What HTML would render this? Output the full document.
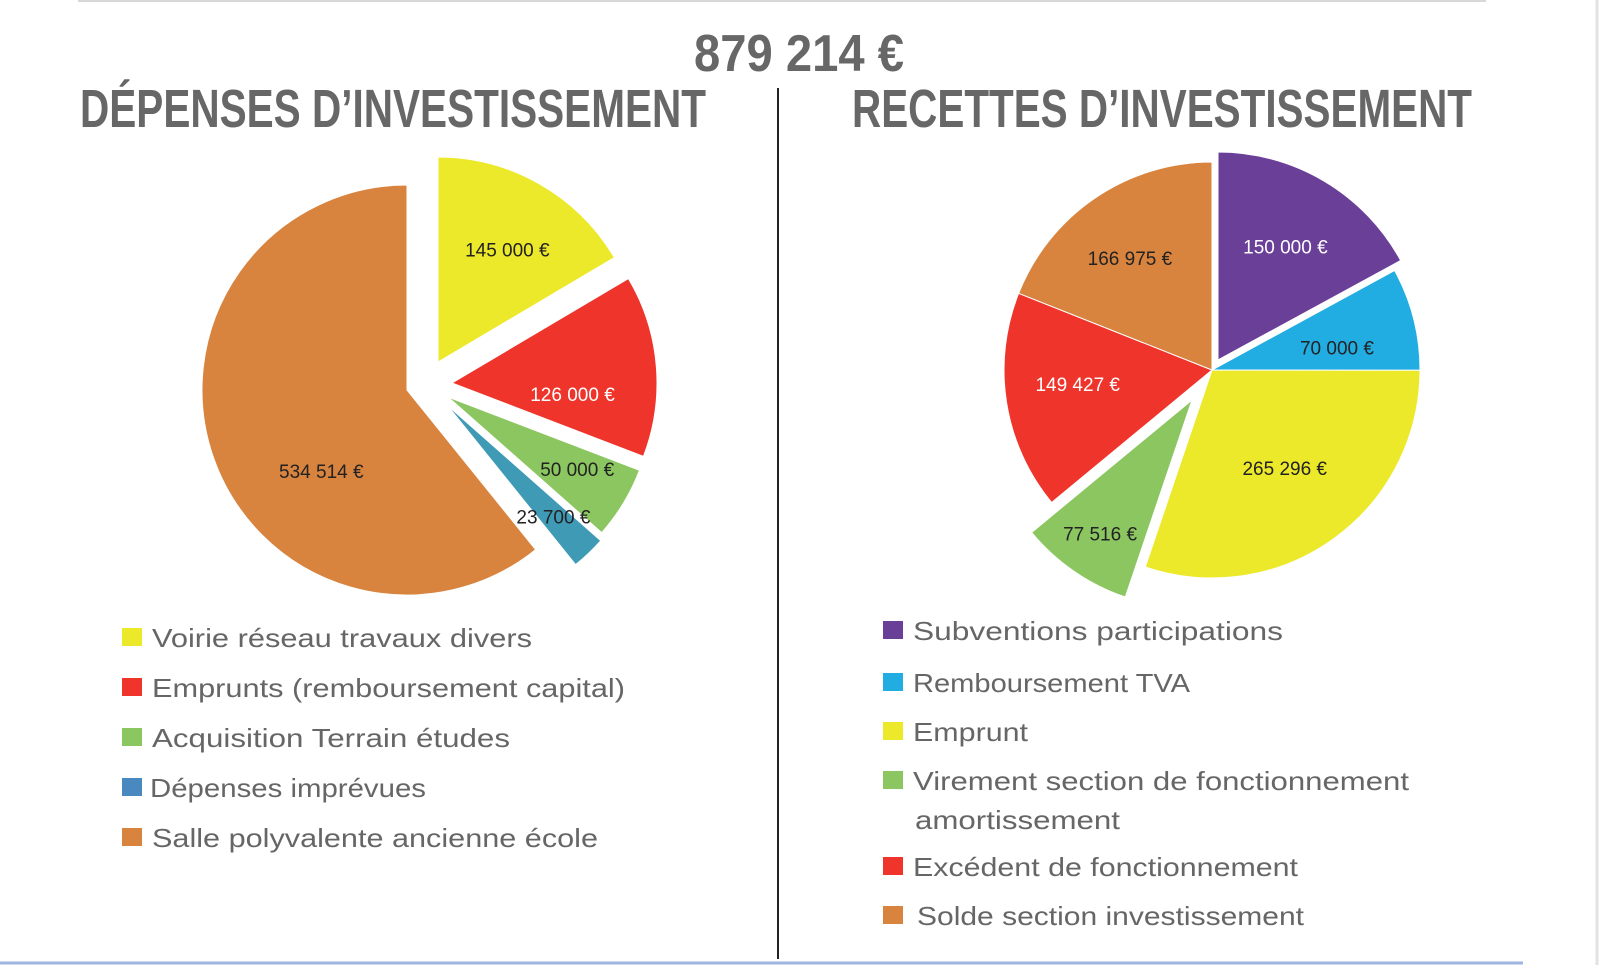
<!DOCTYPE html>
<html><head><meta charset="utf-8">
<style>
html,body{margin:0;padding:0;background:#fff;}
svg{display:block;}
</style></head>
<body>
<svg id="chart" width="1599" height="965" viewBox="0 0 1599 965" xmlns="http://www.w3.org/2000/svg">
  <rect x="0" y="0" width="1599" height="965" fill="#fff"/>
  <line x1="78" y1="1" x2="1486" y2="1" stroke="#d8d8d8" stroke-width="2"/>
  <line x1="1597" y1="0" x2="1597" y2="965" stroke="#e2e2e2" stroke-width="3"/>
  <line x1="0" y1="963" x2="1523" y2="963" stroke="#9fb6e0" stroke-width="3"/>
  <line x1="778" y1="88" x2="778" y2="959" stroke="#222" stroke-width="2"/>
  <text x="694" y="71" textLength="210" lengthAdjust="spacingAndGlyphs" font-family="Liberation Sans, sans-serif" font-weight="bold" font-size="52" fill="#676767">879 214 €</text>
  <text x="80" y="127" textLength="626" lengthAdjust="spacingAndGlyphs" font-family="Liberation Sans, sans-serif" font-weight="bold" font-size="54" fill="#676767">DÉPENSES D’INVESTISSEMENT</text>
  <text x="852" y="127" textLength="620" lengthAdjust="spacingAndGlyphs" font-family="Liberation Sans, sans-serif" font-weight="bold" font-size="54" fill="#676767">RECETTES D’INVESTISSEMENT</text>
  <g id="leftPie"></g>
  <g id="rightPie"></g>
  <g id="leftLegend"></g>
  <g id="rightLegend"></g>
</svg>
<script>
// ---- Data: Dépenses ----
const depCategories = ["Voirie réseau travaux divers","Emprunts (remboursement capital)","Acquisition Terrain études","Dépenses imprévues","Salle polyvalente ancienne école"];
const depValues = [145000, 126000, 50000, 23700, 534514];
// ---- Data: Recettes ----
const recCategories = ["Subventions participations","Remboursement TVA","Emprunt","Virement section de fonctionnement amortissement","Excédent de fonctionnement","Solde section investissement"];
const recValues = [150000, 70000, 265296, 77516, 149427, 166975];

// ---- Styles (not data) ----
const depColors = ["#ece82a","#ee342b","#8bc660","#3f9ab5","#d8843f"];
const depLegendColors = ["#ece82a","#ee342b","#8bc660","#4a89c0","#d8843f"];
const depExplode = [[31,-28],[45,-7],[41,7],[40,15],[0,0]];
const depLabelR = [132,121,148,154,118];
const depLabelShift = [2,10,-2,0,-24];
const depLabelFill = ["#222","#fff","#222","#222","#222"];
const recColors = ["#6a3f98","#22ade2","#ece82a","#8bc660","#ee342b","#d8843f"];
const recExplode = [[6,-10],[0,0],[0,0],[-20,30],[0,0],[0,0]];
const recLabelR = [132,127,122,162,135,139];
const recLabelShift = [0,4,-1,0,3,-2];
const recLabelFill = ["#fff","#222","#222","#222","#fff","#222"];

const NS = "http://www.w3.org/2000/svg";
function fmt(v){ return String(Math.round(v)).replace(/\B(?=(\d{3})+(?!\d))/g," ") + " €"; }
function pt(cx,cy,r,a){ const t=a*Math.PI/180; return [cx+r*Math.sin(t), cy-r*Math.cos(t)]; }

function drawPie(gid, values, colors, explode, labelR, labelShift, labelFill, cx, cy, r, prefix){
  const g = document.getElementById(gid);
  const total = values.reduce((a,b)=>a+b,0);
  let a0 = 0;
  values.forEach((v,i)=>{
    const span = v/total*360;
    const a1 = a0+span;
    const ox = cx+explode[i][0], oy = cy+explode[i][1];
    const p0 = pt(ox,oy,r,a0), p1 = pt(ox,oy,r,a1);
    const path = document.createElementNS(NS,"path");
    path.setAttribute("d",`M${ox},${oy} L${p0[0]},${p0[1]} A${r},${r} 0 ${span>180?1:0} 1 ${p1[0]},${p1[1]} Z`);
    path.setAttribute("fill",colors[i]);
    path.setAttribute("stroke","#fff");
    path.setAttribute("stroke-width","1");
    
    
    g.appendChild(path);
    const mid = (a0+a1)/2 + labelShift[i];
    const lp = pt(ox,oy,labelR[i],mid);
    const t = document.createElementNS(NS,"text");
    t.setAttribute("x",lp[0]); t.setAttribute("y",lp[1]+7);
    t.setAttribute("text-anchor","middle");
    t.setAttribute("font-family","Liberation Sans, sans-serif");
    t.setAttribute("font-size","19");
    t.setAttribute("fill",labelFill[i]);
    t.textContent = fmt(v);
    
    
    g.appendChild(t);
    a0 = a1;
  });
}
drawPie("leftPie", depValues, depColors, depExplode, depLabelR, depLabelShift, depLabelFill, 407, 390, 205, "depenses");
drawPie("rightPie", recValues, recColors, recExplode, recLabelR, recLabelShift, recLabelFill, 1212, 370, 208, "recettes");

function drawLegend(gid, lines, colors, sqX, txX, prefix){
  const g = document.getElementById(gid);
  lines.forEach((ln,i)=>{
    if(ln.sq !== undefined){
      const s = document.createElementNS(NS,"rect");
      s.setAttribute("x",sqX); s.setAttribute("y",ln.y-19);
      s.setAttribute("width",20); s.setAttribute("height",18);
      s.setAttribute("fill",colors[ln.sq]);
      
      
      g.appendChild(s);
    }
    const t = document.createElementNS(NS,"text");
    t.setAttribute("x",ln.x||txX); t.setAttribute("y",ln.y);
    t.setAttribute("font-family","Liberation Sans, sans-serif");
    t.setAttribute("font-size","26");
    t.setAttribute("fill","#666");
    t.setAttribute("textLength",ln.w);
    t.setAttribute("lengthAdjust","spacingAndGlyphs");
    t.textContent = ln.text;
    
    
    g.appendChild(t);
  });
}
drawLegend("leftLegend", [
  {sq:0,text:depCategories[0],y:647,w:380},
  {sq:1,text:depCategories[1],y:697,w:473},
  {sq:2,text:depCategories[2],y:747,w:358},
  {sq:3,text:depCategories[3],y:797,w:276,x:150},
  {sq:4,text:depCategories[4],y:847,w:446}
], depLegendColors, 122, 152, "depenses");
drawLegend("rightLegend", [
  {sq:0,text:recCategories[0],y:640,w:370},
  {sq:1,text:recCategories[1],y:692,w:277},
  {sq:2,text:recCategories[2],y:741,w:115},
  {sq:3,text:"Virement section de fonctionnement",y:790,w:496},
  {text:"amortissement",y:829,w:205,x:915},
  {sq:4,text:recCategories[4],y:876,w:385},
  {sq:5,text:recCategories[5],y:925,w:387,x:917}
], recColors, 883, 913, "recettes");
</script>
</body></html>
